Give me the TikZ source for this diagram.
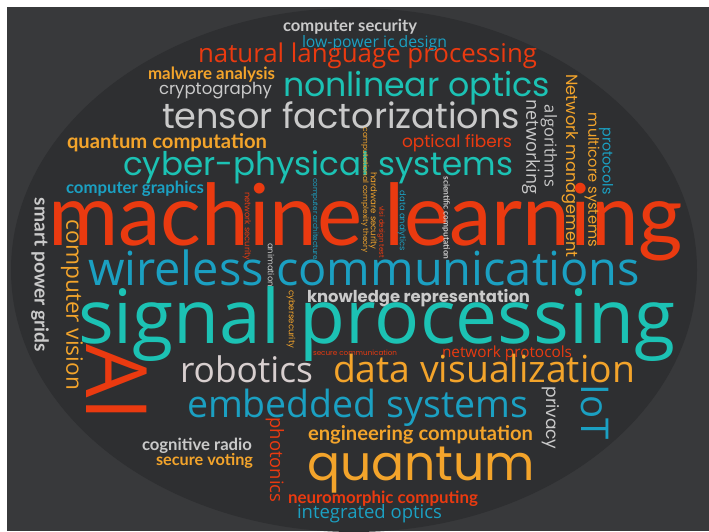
\documentclass[tikz,border=0pt]{standalone}
\usepackage{fontspec}
\usepackage{graphicx}
\setmainfont{Open Sans}
\newfontfamily\lato{Lato}
\newfontfamily\pop{Poppins}
\definecolor{bgdark}{HTML}{38393B}
\definecolor{ellip}{HTML}{2E2F31}
\definecolor{cred}{HTML}{EA3A10}
\definecolor{cteal}{HTML}{1CC2B4}
\definecolor{cblue}{HTML}{1BA0C2}
\definecolor{corange}{HTML}{F3A42B}
\definecolor{cgrey}{HTML}{CACACA}
\definecolor{cpink}{HTML}{D8CFCF}
\newcommand\hword[6]{\node[hwordn,text=#5] (#1) at (#2,#4) {\resizebox{\dimexpr (#3pt-#2pt)*3/4\relax}{!}{#6}};}
\newcommand\vword[6]{\node[vwordn,text=#5] (#1) at (#2,#3) {\resizebox{\dimexpr #4pt*3/4\relax}{!}{#6}};}
\begin{document}
\begin{tikzpicture}[x=0.75pt,y=-0.75pt,
  hwordn/.style={inner sep=0pt,outer sep=0pt,anchor=base west},
  vwordn/.style={inner sep=0pt,outer sep=0pt,anchor=center,rotate=-90}]
\useasboundingbox (0,0) rectangle (709,531);
\fill[white] (0,0) rectangle (709,531);
\fill[bgdark] (7,7) rectangle (709,531);
\begin{scope}
\clip (7,7) rectangle (709,531);
\fill[ellip] (354,270) ellipse [x radius=343, y radius=262];
\end{scope}
% horizontal words
\hword{w1}{283}{417}{32}{cgrey}{\lato\bfseries computer security}
\hword{w2}{302}{447}{48}{cblue}{low-power ic design}
\hword{w3}{198}{537}{63}{cred}{natural language processing}
\hword{w4}{148}{275}{80}{corange}{\lato\bfseries malware analysis}
\hword{w5}{159}{272}{95}{cgrey}{\pop cryptography}
\hword{w6}{283}{550}{97}{cteal}{\pop nonlinear optics}
\hword{w7}{162}{520}{128}{cgrey}{\pop tensor factorizations}
\hword{w8}{67}{267}{148}{corange}{\lato\bfseries quantum computation}
\hword{w9}{402}{512}{147}{cred}{\pop optical fibers}
\hword{w10}{123}{513}{175}{cteal}{\pop cyber-physical systems}
\hword{w11}{66}{204}{193}{cblue}{\lato\bfseries computer graphics}
\hword{w12}{48}{683}{245}{cred}{\lato machine learning}
\hword{w13}{88}{640}{285}{cblue}{wireless communications}
\hword{w14}{307}{530}{302}{cgrey}{\pop\bfseries knowledge representation}
\hword{w15}{78}{675}{343}{cteal}{signal processing}
\hword{w16}{313}{397}{355}{cred}{\pop secure communication}
\hword{w17}{442}{572}{357}{cred}{network protocols}
\hword{w18}{180}{313}{382}{cpink}{robotics}
\hword{w19}{333}{635}{382}{corange}{data visualization}
\hword{w20}{187}{528}{417}{cblue}{embedded systems}
\hword{w21}{308}{533}{440}{corange}{\lato\bfseries engineering computation}
\hword{w22}{142}{252}{450}{cgrey}{\lato\bfseries cognitive radio}
\hword{w23}{156}{253}{465}{corange}{\lato\bfseries secure voting}
\hword{w24}{307}{535}{480}{corange}{\pop quantum}
\hword{w25}{288}{478}{503}{cred}{\lato\bfseries neuromorphic computing}
\hword{w26}{297}{442}{518}{cblue}{integrated optics}
% vertical words (reading downward)
\vword{v1}{40}{275}{154}{cgrey}{\lato\bfseries smart power grids}
\vword{v2}{72}{305}{170}{corange}{computer vision}
\vword{v3}{117}{383}{77}{cred}{AI}
\vword{v4}{247}{226}{68}{cred}{\pop network security}
\vword{v5}{315}{219}{82}{cblue}{\pop computer architecture}
\vword{v6}{271}{265}{44}{cgrey}{\pop animation}
\vword{v7}{291}{319}{58}{corange}{\pop cybersecurity}
\vword{v8}{365}{190}{125}{corange}{\pop computational complexity theory}
\vword{v9}{373}{211}{77}{corange}{\pop hardware security}
\vword{v10}{381}{232}{52}{cred}{\pop vlsi design test}
\vword{v11}{402}{221}{60}{cblue}{\pop data analytics}
\vword{v12}{446}{218}{83}{cgrey}{\lato\bfseries scientific computation}
\vword{v13}{531}{147}{95}{cgrey}{networking}
\vword{v14}{549}{146}{82}{cgrey}{algorithms}
\vword{v15}{570}{166}{183}{corange}{\pop Network management}
\vword{v16}{592}{180}{134}{corange}{\pop multicore systems}
\vword{v17}{606}{161}{67}{cblue}{\pop protocols}
\vword{v18}{595}{412}{55}{cblue}{IoT}
\vword{v19}{551}{418}{63}{cgrey}{\pop privacy}
\vword{v20}{275}{460}{85}{cred}{photonics}
\end{tikzpicture}
\end{document}
